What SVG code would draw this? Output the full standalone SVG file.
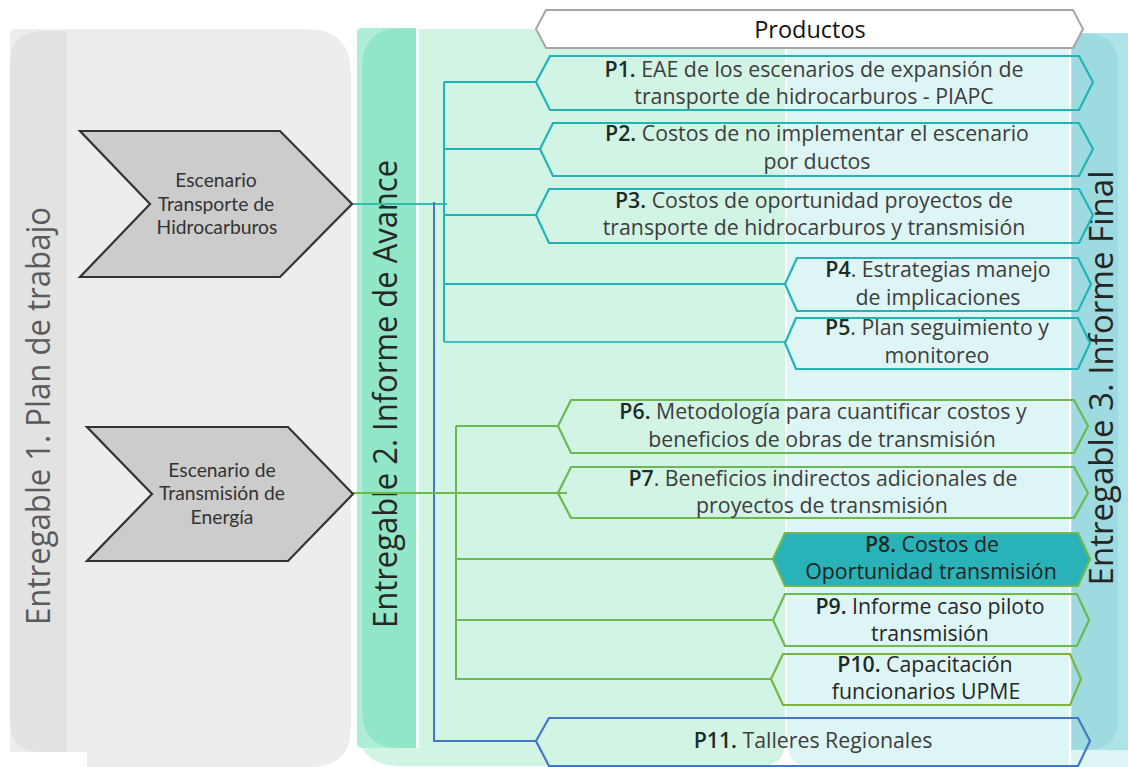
<svg xmlns="http://www.w3.org/2000/svg" width="1128" height="767" viewBox="0 0 1128 767">
  <style>
    .lane-title { font-family: "Open Sans", "Noto Sans", sans-serif; font-size: 32px; text-anchor: middle; }
    .prod { fill: none; stroke-width: 2.2; stroke-linejoin: miter; }
    .teal { stroke: #22b3b6; }
    .green { stroke: #6cb94f; }
    .olive { stroke: #7cb442; }
    .blue { stroke: #4676c6; }
    .ptext { font-family: "Open Sans", "Noto Sans", sans-serif; font-size: 21.3px; fill: #3d3d3d; text-anchor: middle; }
    .ptext .b { font-weight: 600; fill: #1c2b27; }
    .chev { fill: #cccccc; stroke: #333333; stroke-width: 2.2; stroke-linejoin: miter; }
    .ctext { font-family: "Lato", "Carlito", sans-serif; font-size: 19.3px; fill: #333333; text-anchor: middle; }
    .conn { fill: none; stroke-width: 2; }
  </style>

  <rect width="1128" height="767" fill="#ffffff"/>

  <!-- Lane 1: work plan -->
  <g id="lane-entregable-1">
    <path d="M10,34 Q10,29 15,29 L306,29 Q351,29 351,74 L351,727 Q351,767 311,767 L87,767 L87,752 L10,752 Z" fill="#ededed"/>
    <path d="M67,31 L67,752 L42,752 Q10,752 10,720 L10,64 Q10,31 43,31 Z" fill="#e2e2e2"/>
    <text class="lane-title" transform="translate(50,416) rotate(-90)" fill="#5a5a5a" textLength="418" lengthAdjust="spacingAndGlyphs">Entregable 1. Plan de trabajo</text>
  </g>

  <!-- Lane 2: progress report -->
  <g id="lane-entregable-2">
    <path d="M357,29 L760,29 Q785,29 785,54 L785,741 Q785,766 760,766 L400,766 Q357,766 357,723 Z" fill="#d1f4e5"/>
    <rect x="357" y="28" width="59" height="720" rx="5" fill="#aeeed6"/>
    <path d="M416,28 L416,748 L400,748 Q362,748 362,710 L362,68 Q362,28 402,28 Z" fill="#90e6c6"/>
    <line x1="417.5" y1="29" x2="417.5" y2="748" stroke="#ffffff" stroke-width="2.5"/>
    <text class="lane-title" transform="translate(397,394) rotate(-90)" fill="#262626" textLength="468" lengthAdjust="spacingAndGlyphs">Entregable 2. Informe de Avance</text>
  </g>

  <!-- Lane 3: final report -->
  <g id="lane-entregable-3">
    <path d="M787,60 Q787,34 813,34 L1128,34 L1128,767 L813,767 Q787,767 787,741 Z" fill="#ddf6f5"/>
    <rect x="1071" y="33" width="57" height="717" fill="#aee4e9"/>
    <path d="M1071,34 L1086,34 Q1118,34 1118,66 L1118,718 Q1118,750 1086,750 L1071,750 Z" fill="#9ddbe1"/>
    <line x1="1070" y1="34" x2="1070" y2="767" stroke="#ffffff" stroke-width="2.5"/>
    <text class="lane-title" transform="translate(1113,378) rotate(-90)" fill="#262626" textLength="415" lengthAdjust="spacingAndGlyphs">Entregable 3. Informe Final</text>
  </g>

  <!-- Connectors -->
  <g id="connectors">
    <!-- hydrocarbon scenario branch -->
    <path class="conn" d="M352,204 H447" stroke="#35bdb4" stroke-width="1.8"/>
    <path class="conn teal" d="M444,82 V342"/>
    <path class="conn teal" d="M444,82 H536"/>
    <path class="conn teal" d="M444,149 H540"/>
    <path class="conn teal" d="M444,215 H536"/>
    <path class="conn teal" d="M444,284 H785"/>
    <path class="conn" d="M444,342 H785" stroke="#3cc0c3"/>
    <!-- regional workshops branch -->
    <path class="conn blue" d="M434,202 V741 H536"/>
    <!-- energy transmission branch -->
    <path class="conn green" d="M353,493 H567"/>
    <path class="conn green" d="M456,426 V680"/>
    <path class="conn green" d="M456,426 H558"/>
    <path class="conn green" d="M456,559 H773"/>
    <path class="conn green" d="M456,620 H773"/>
    <path class="conn green" d="M456,679 H771"/>
  </g>

  <!-- Scenario chevrons -->
  <g id="escenario-hidrocarburos">
    <path class="chev" d="M80,131 L280,131 L352,204 L280,277 L80,277 L150,204 Z"/>
    <text class="ctext" x="216" y="187">Escenario</text>
    <text class="ctext" x="216" y="211">Transporte de</text>
    <text class="ctext" x="217" y="234">Hidrocarburos</text>
  </g>
  <g id="escenario-transmision">
    <path class="chev" d="M87,427 L288,427 L353,494 L288,561 L87,561 L152,494 Z"/>
    <text class="ctext" x="222" y="477">Escenario de</text>
    <text class="ctext" x="222" y="500">Transmisión de</text>
    <text class="ctext" x="222" y="524">Energía</text>
  </g>

  <!-- Products header -->
  <g id="productos">
    <path d="M536,29 L546,10 L1073,10 L1083,29 L1073,48 L546,48 Z" fill="#ffffff" stroke="#a6a6a6" stroke-width="2"/>
    <text x="810" y="38" font-family="Open Sans, Noto Sans, sans-serif" font-size="23.5" fill="#111111" text-anchor="middle">Productos</text>
  </g>

  <g id="p1">
    <path class="prod teal" d="M536,82 L550,56 L1079,56 L1093,82 L1079,110 L550,110 Z"/>
    <text class="ptext" x="814" y="77"><tspan class="b">P1.</tspan> EAE de los escenarios de expansión de</text>
    <text class="ptext" x="814" y="104">transporte de hidrocarburos - PIAPC</text>
  </g>
  <g id="p2">
    <path class="prod teal" d="M540,149 L553,123 L1079,123 L1093,149 L1079,176 L553,176 Z"/>
    <text class="ptext" x="817" y="141"><tspan class="b">P2.</tspan> Costos de no implementar el escenario</text>
    <text class="ptext" x="817" y="169">por ductos</text>
  </g>
  <g id="p3">
    <path class="prod teal" d="M536,215 L549,189 L1079,189 L1093,215 L1079,243 L549,243 Z"/>
    <text class="ptext" x="814" y="208"><tspan class="b">P3.</tspan> Costos de oportunidad proyectos de</text>
    <text class="ptext" x="814" y="235">transporte de hidrocarburos y transmisión</text>
  </g>
  <g id="p4">
    <path class="prod teal" d="M785,284 L797,258 L1078,258 L1091,284 L1078,311 L797,311 Z"/>
    <text class="ptext" x="938" y="277"><tspan class="b">P4</tspan>. Estrategias manejo</text>
    <text class="ptext" x="938" y="305">de implicaciones</text>
  </g>
  <g id="p5">
    <path class="prod teal" d="M785,343 L796,318 L1078,318 L1090,343 L1078,369 L796,369 Z"/>
    <text class="ptext" x="937" y="335"><tspan class="b">P5</tspan>. Plan seguimiento y</text>
    <text class="ptext" x="937" y="363">monitoreo</text>
  </g>
  <g id="p6">
    <path class="prod green" d="M558,426 L571,400 L1074,400 L1088,426 L1074,453 L571,453 Z"/>
    <text class="ptext" x="823" y="419"><tspan class="b">P6.</tspan> Metodología para cuantificar costos y</text>
    <text class="ptext" x="822" y="447">beneficios de obras de transmisión</text>
  </g>
  <g id="p7">
    <path class="prod green" d="M558,493 L571,467 L1074,467 L1088,493 L1074,518 L571,518 Z"/>
    <text class="ptext" x="823" y="486"><tspan class="b">P7</tspan>. Beneficios indirectos adicionales de</text>
    <text class="ptext" x="822" y="513">proyectos de transmisión</text>
  </g>
  <g id="p8">
    <path class="prod green" d="M773,559 L785,533 L1078,533 L1090,559 L1078,586 L785,586 Z" style="fill:#29b2b8"/>
    <text class="ptext" x="932" y="552" style="fill:#232323"><tspan class="b">P8.</tspan> Costos de</text>
    <text class="ptext" x="931" y="579" style="fill:#232323">Oportunidad transmisión</text>
  </g>
  <g id="p9">
    <path class="prod green" d="M773,620 L785,594 L1077,594 L1089,620 L1077,646 L785,646 Z"/>
    <text class="ptext" x="930" y="614" style="fill:#262626"><tspan class="b">P9.</tspan> Informe caso piloto</text>
    <text class="ptext" x="930" y="641" style="fill:#262626">transmisión</text>
  </g>
  <g id="p10">
    <path class="prod olive" d="M771,679 L783,654 L1070,654 L1081,679 L1070,705 L783,705 Z"/>
    <text class="ptext" x="925" y="672" style="fill:#262626"><tspan class="b">P10.</tspan> Capacitación</text>
    <text class="ptext" x="926" y="699" style="fill:#262626">funcionarios UPME</text>
  </g>
  <g id="p11">
    <path class="prod blue" d="M536,741 L549,718 L1078,718 L1090,741 L1078,766 L549,766 Z"/>
    <text class="ptext" x="813" y="748"><tspan class="b">P11.</tspan> Talleres Regionales</text>
  </g>
</svg>
